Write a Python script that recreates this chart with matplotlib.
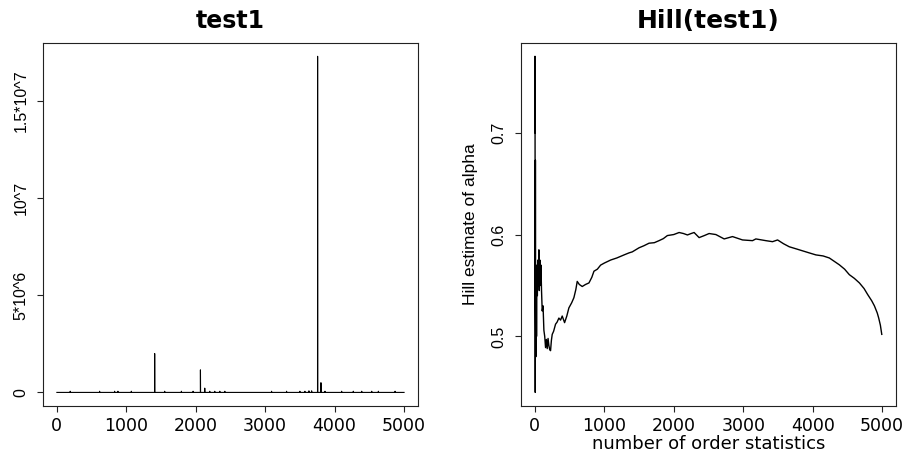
import numpy as np
import matplotlib
matplotlib.use("Agg")
import matplotlib.pyplot as plt

# ---- data ----
n_obs = 5000

# left panel: series is ~0 except for these spikes (index, value)
spike_idx = [193, 616, 832, 880, 1073, 1409, 1553, 1794, 1962, 2068, 2130,
             2202, 2274, 2347, 2419, 3092, 3308, 3500, 3572, 3630, 3669,
             3755, 3803, 3861, 4101, 4269, 4390, 4534, 4630, 4870]
spike_val = [6e4, 6e4, 6e4, 6e4, 6e4, 2.0e6, 6e4, 6e4, 6e4, 1.16e6, 2.2e5,
             6e4, 6e4, 6e4, 6e4, 6e4, 6e4, 6e4, 6e4, 8e4, 8e4,
             1.73e7, 5.0e5, 6e4, 6e4, 6e4, 6e4, 6e4, 6e4, 6e4]
left_yticks = [0, 5e6, 1e7, 1.5e7]
left_yticklabels = ["0", "5*10^6", "10^7", "1.5*10^7"]

# right panel: Hill estimate vs number of order statistics
hill_k = [1, 2, 4, 6, 8, 10, 14, 18, 24, 30, 36, 44, 52, 58, 64, 72, 80, 88,
          96, 106, 118, 130, 142, 154, 166, 178, 190, 202, 214, 226, 238, 250,
          270, 298, 320, 346, 370, 394, 428, 460, 490, 530, 562, 590, 610, 640,
          682, 730, 779, 820, 851, 900, 947, 1000, 1092, 1180, 1284, 1356,
          1403, 1500, 1570, 1644, 1720, 1788, 1850, 1908, 2000, 2077, 2140,
          2197, 2250, 2293, 2365, 2440, 2509, 2606, 2726, 2846, 2990, 3134,
          3182, 3326, 3422, 3495, 3580, 3663, 3760, 3855, 3950, 4047, 4150,
          4240, 4384, 4460, 4528, 4600, 4673, 4740, 4793, 4850, 4889, 4930,
          4951, 4975, 4995]
hill_alpha = [0.70, 0.775, 0.62, 0.445, 0.673, 0.53, 0.48, 0.57, 0.50, 0.56,
              0.54, 0.575, 0.55, 0.585, 0.545, 0.575, 0.55, 0.57, 0.545,
              0.525, 0.53, 0.506, 0.50, 0.489, 0.497, 0.488, 0.498, 0.491,
              0.487, 0.486, 0.496, 0.502, 0.505, 0.512, 0.514, 0.518, 0.516,
              0.520, 0.5135, 0.520, 0.528, 0.533, 0.538, 0.546, 0.554, 0.551,
              0.549, 0.551, 0.5525, 0.558, 0.564, 0.566, 0.570, 0.572, 0.575,
              0.577, 0.580, 0.582, 0.583, 0.587, 0.589, 0.5915, 0.592, 0.594,
              0.596, 0.599, 0.600, 0.602, 0.601, 0.5996, 0.601, 0.602, 0.597,
              0.599, 0.601, 0.600, 0.5957, 0.598, 0.5947, 0.594, 0.5957, 0.594,
              0.593, 0.5947, 0.591, 0.588, 0.586, 0.584, 0.582, 0.580, 0.579,
              0.577, 0.5703, 0.566, 0.5606, 0.557, 0.5525, 0.547, 0.541,
              0.535, 0.530, 0.523, 0.518, 0.511, 0.502]
right_yticks = [0.5, 0.6, 0.7]
xticks = [0, 1000, 2000, 3000, 4000, 5000]

# ---- styling ----
wide_font = "DejaVu Sans"
narrow_font = ["Liberation Sans Narrow", "Liberation Sans", "DejaVu Sans"]


def r_limits(vals):
    # R style 4% padding around data range
    lo, hi = min(vals), max(vals)
    pad = 0.04 * (hi - lo)
    return lo - pad, hi + pad


def style_axes(ax):
    for sp in ax.spines.values():
        sp.set_linewidth(0.8)
        sp.set_color("#222222")
    ax.tick_params(axis="both", direction="out", length=4.5, width=0.8,
                   color="#222222")
    ax.tick_params(axis="x", pad=3.5, labelsize=12.5)
    ax.tick_params(axis="y", pad=6)
    ax.set_xticks(xticks)
    for lab in ax.get_xticklabels():
        lab.set_family(wide_font)


fig = plt.figure(figsize=(9.09, 4.55), dpi=100)
ax1 = fig.add_axes([0.0473, 0.108, 0.4125, 0.7978])
ax2 = fig.add_axes([0.5732, 0.108, 0.4125, 0.7978])

# ---- left: raw series ----
t = np.arange(1, n_obs + 1)
test1 = np.zeros(n_obs)
test1[np.array(spike_idx) - 1] = spike_val
ax1.plot(t, test1, color="black", linewidth=0.8)
ax1.set_xlim(r_limits([1, n_obs]))
ax1.set_ylim(r_limits(test1))
style_axes(ax1)
ax1.set_yticks(left_yticks)
ax1.set_yticklabels(left_yticklabels, rotation=90, va="center",
                    family=narrow_font, fontsize=11.5)
ax1.set_title("test1", family=wide_font, fontweight="bold", fontsize=17,
              pad=11)

# ---- right: Hill plot ----
ax2.plot(hill_k, hill_alpha, color="black", linewidth=1.0)
ax2.set_xlim(r_limits([1, n_obs]))
ax2.set_ylim(r_limits(hill_alpha))
style_axes(ax2)
ax2.set_yticks(right_yticks)
ax2.set_yticklabels([f"{v:.1f}" for v in right_yticks], rotation=90,
                    va="center", family=narrow_font, fontsize=11.5)
ax2.set_xlabel("number of order statistics", family=wide_font, fontsize=13,
               labelpad=0)
ax2.set_ylabel("Hill estimate of alpha", family=narrow_font, fontsize=12.5,
               labelpad=10)
ax2.set_title("Hill(test1)", family=wide_font, fontweight="bold", fontsize=18,
              pad=11)

fig.savefig("out.png", dpi=100)
